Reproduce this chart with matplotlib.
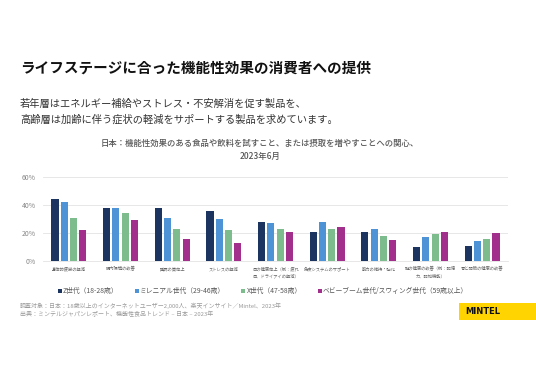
import matplotlib
matplotlib.use("Agg")
import matplotlib.pyplot as plt
from matplotlib.patches import Rectangle
import numpy as np

plt.rcParams['font.family'] = ['Noto Sans CJK JP', 'DejaVu Sans']

categories = ["身体的疲労の軽減", "腸内環境の改善", "睡眠の質向上", "ストレスの軽減",
              "目の健康向上（例：疲れ\n目、ドライアイの軽減）", "免疫システムのサポート",
              "筋力の維持・強化", "脳の健康の改善（例：記憶\n力、認知機能）", "骨と関節の健康の改善"]
series_names = ["Z世代（18-28歳）", "ミレニアル世代（29-46歳）", "X世代（47-58歳）",
                "ベビーブーム世代/スウィング世代（59歳以上）"]
gen_z = [44, 38, 38, 36, 28, 21, 21, 10, 11]
millennial = [42, 38, 31, 30, 27, 28, 23, 17, 14]
gen_x = [31, 34, 23, 22, 23, 23, 18, 19, 16]
boomer = [22, 29, 16, 13, 21, 24, 15, 21, 20]
yticks = [0, 20, 40, 60]
ytick_labels = ["0%", "20%", "40%", "60%"]

colors = ["#1b3560", "#4d93d6", "#7dbd8d", "#a22f8c"]
values = [gen_z, millennial, gen_x, boomer]

W, H = 536, 377
fig = plt.figure(figsize=(W / 100, H / 100), dpi=100)
fig.patch.set_facecolor("white")

def fx(px):
    return px / W

def fy(py):
    return 1 - py / H

# Titles
fig.text(fx(20), fy(68), "ライフステージに合った機能性効果の消費者への提供", fontsize=10.5,
         fontweight="bold", color="#111111", va="center", ha="left")
fig.text(fx(20), fy(104), "若年層はエネルギー補給やストレス・不安解消を促す製品を、", fontsize=7.4,
         color="#333333", va="center", ha="left")
fig.text(fx(20), fy(119), "高齢層は加齢に伴う症状の軽減をサポートする製品を求めています。", fontsize=7.4,
         color="#333333", va="center", ha="left")
fig.text(fx(260), fy(143), "日本：機能性効果のある食品や飲料を試すこと、または摂取を増やすことへの関心、",
         fontsize=6, color="#555555", va="center", ha="center", fontweight="medium")
fig.text(fx(260), fy(156), "2023年6月", fontsize=6, color="#555555", va="center", ha="center",
         fontweight="medium")

ax = fig.add_axes([fx(43), fy(261), fx(508) - fx(43), (261 - 177) / H])
x = np.arange(len(categories))
step = 0.18
width = 0.14
for i, (vals, c, name) in enumerate(zip(values, colors, series_names)):
    ax.bar(x + (i - 1.5) * step, vals, width=width, color=c, label=name, zorder=3)

ax.set_xlim(-0.5, len(categories) - 0.5)
ax.set_ylim(0, 60)
ax.set_yticks(yticks)
ax.set_yticklabels(ytick_labels, fontsize=5, color="#888888")
ax.grid(axis="y", color="#e3e3e3", linewidth=0.6, zorder=0)
ax.set_xticks(x)
ax.set_xticklabels(categories, fontsize=3.1, color="#666666", linespacing=1.4, va="top")
for s in ["top", "right", "left"]:
    ax.spines[s].set_visible(False)
ax.spines["bottom"].set_color("#e3e3e3")
ax.spines["bottom"].set_linewidth(0.6)
ax.tick_params(axis="x", length=0, pad=4)
ax.tick_params(axis="y", length=0, pad=5)

handles, labels = ax.get_legend_handles_labels()
leg = fig.legend(handles, labels, loc="center", bbox_to_anchor=(fx(263), fy(291)), ncol=4,
                 frameon=False, fontsize=4.9, handlelength=0.55, handleheight=0.55,
                 handletextpad=0.2, columnspacing=2.4, labelcolor="#555555")

fig.text(fx(20), fy(306), "調査対象：日本：18歳以上のインターネットユーザー2,000人、楽天インサイト／Mintel、2023年",
         fontsize=4.3, color="#9a9a9a", va="center", ha="left", style="italic")
fig.text(fx(20), fy(314), "出典：ミンテルジャパンレポート、機能性食品トレンド – 日本 – 2023年",
         fontsize=4.3, color="#9a9a9a", va="center", ha="left", style="italic")

fig.patches.append(Rectangle((fx(459), fy(320)), fx(536) - fx(459), (320 - 303) / H,
                             transform=fig.transFigure, facecolor="#ffd400", edgecolor="none"))
fig.text(fx(465), fy(311.5), "MINTEL", fontsize=6, fontweight="bold", color="#111111",
         va="center", ha="left", family="DejaVu Sans")

fig.savefig("out.png", dpi=100, facecolor="white")
